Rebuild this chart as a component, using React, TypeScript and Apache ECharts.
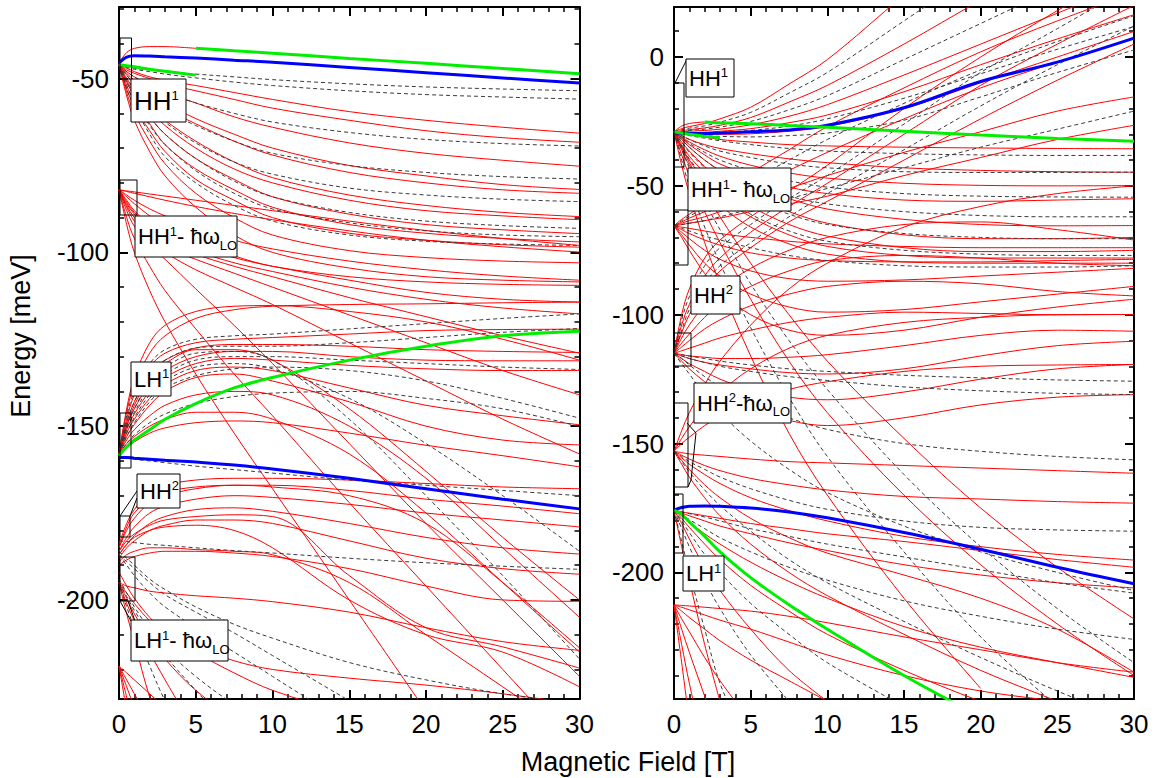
import React, { useEffect, useRef } from "react";
import * as echarts from "echarts";

const FONT = '"Liberation Sans", Arial, Helvetica, sans-serif';

// magnetic field sample points (T) shared by every curve
const FIELD = [0, 0.5, 1, 2, 3, 5, 7.5, 10, 15, 20, 25, 30];

const LEFT_Y_RANGE = [-228.5, -29.4];
const RIGHT_Y_RANGE = [-249.1, 19.4];
const LEFT_Y_MAJOR = [-200, -150, -100, -50];
const LEFT_Y_MINOR = [-220, -210, -190, -180, -170, -160, -140, -130, -120, -110, -90, -80, -70, -60, -40, -30];
const RIGHT_Y_MAJOR = [-200, -150, -100, -50, 0];
const RIGHT_Y_MINOR = [-240, -230, -220, -210, -190, -180, -170, -160, -140, -130, -120, -110, -90, -80, -70, -60, -40, -30, -20, -10, 10];

// ---------------- LEFT PANEL (energies in meV at FIELD) ----------------
const leftRedHH1 = [
  [-46, -47, -48, -49.5, -50.5, -52, -54, -56, -59.5, -62, -64, -65.7],
  [-46, -47.5, -48.5, -50, -51.5, -53.5, -56, -58.5, -62, -65, -67, -68.3],
  [-46, -48, -49.5, -52, -54, -57, -61, -64, -68.5, -71.5, -73.5, -75.2],
  [-46, -48.5, -50.5, -54, -57, -61.5, -66, -70, -75, -78, -80.5, -81.9],
  [-46, -49, -51.5, -55, -58.5, -63, -68, -72, -77, -80, -82, -83],
  [-46, -50, -53, -58, -62, -68, -74, -78.5, -83.5, -86.5, -88.5, -89.7],
  [-46, -50.5, -54, -59, -63.5, -70, -76, -80, -85, -88, -89.5, -90.6],
  [-46, -51, -55, -61, -66, -73, -79, -84, -89, -92, -93.5, -94.6],
  [-46, -52, -56.5, -63, -69, -76, -82, -87, -92, -94.5, -96, -97],
  [-46, -53, -58, -65, -71, -79, -85, -90, -94.5, -96.5, -97.8, -98.5],
  [-46, -54, -60, -68, -74.5, -83, -90, -95, -99.5, -101.5, -102.5, -103],
  [-46, -55, -62, -71, -78, -87, -95, -100, -104.5, -107, -108, -108.5],
  [-45.5, -42.5, -41.3, -40.8, -40.8, -41.3],
];
const leftDashHH1 = [
  [-46, -46.5, -47, -47.5, -48, -48.7, -49.5, -50.3, -51.5, -52.4, -53, -53.5],
  [-46, -46.8, -47.3, -48, -48.7, -49.8, -51, -52, -53.5, -54.6, -55.3, -55.9],
  [-46, -48, -49.5, -52, -54, -57, -60, -62.5, -65.5, -67.5, -68.7, -69.4],
  [-46, -49, -51.5, -55.5, -59, -63.5, -68, -71.5, -75, -77, -78.2, -78.9],
  [-46, -50, -53, -58, -62.5, -68.5, -74, -77.5, -81.5, -83.5, -84.7, -85.4],
  [-46, -51, -55, -61, -66, -73, -79.5, -84, -88.5, -91, -92.3, -93.1],
  [-46, -52, -56.5, -63.5, -69, -76.5, -83, -87.5, -91.5, -93.8, -95, -95.5],
  [-46, -53, -58, -66, -72.5, -80, -86.5, -91, -95, -96.8, -97.6, -98],
];
const leftBlueHH1 = [-45.5, -43.8, -43.4, -43.5, -43.7, -44.1, -44.7, -45.3, -46.8, -48.3, -49.8, -51.3];
const leftGreenHH1 = [null, null, null, null, null, -41.3, -42, -42.7, -44.2, -45.6, -47.1, -48.6];
const leftGreenHH1Short = [-46, -46.3, -46.6, -47.3, -47.9, -49];

const leftRedHH1LO = [
  [-82, -82.3, -82.6, -83.2, -83.8, -85, -86.5, -88, -91, -93.7, -96, -98],
  [-82, -82.5, -83, -84, -85, -86.8, -88.8, -90.6, -93.8, -96.5, -98.4, -99.9],
  [-82, -83.5, -85, -87.5, -89.5, -93, -96.5, -99, -102.5, -105, -106.8, -108],
  [-82, -84, -86, -89.5, -92.5, -97, -101, -104, -107, -108.5, -109.2, -109.5],
  [-82, -85, -88, -92, -94.5, -98, -101.5, -104, -108, -111.5, -113.5, -114.3],
  [-82, -85.5, -88.5, -92.5, -95.5, -99.5, -103, -105.5, -110, -113.5, -116, -117.7],
  [-82, -86, -89, -93.5, -96.5, -100.5, -104, -107, -113, -118.5, -124, -129],
  [-82, -86.5, -90, -95, -98.5, -102, -106, -110, -118, -126, -134, -141],
  [-82, -87, -91, -96.5, -100, -105, -110, -115, -126, -137, -148, -158],
  [-82, -88, -92.5, -98, -102, -110.5, -121, -132, -155, -178, -200, -222],
  [-82, -90, -96, -104, -111, -122, -135, -147, -172, -196, -220, -244],
  [-82, -92, -100, -111, -120, -135, -152, -168, -200, -232],
];

const leftRedLH1 = [
  [-158, -146, -138, -129, -124, -119, -116.5, -115.5, -115, -114.8, -114.5, -114.3],
  [-158, -148, -141, -133, -129, -126, -125, -124.5, -123.5, -122.5, -122.2, -122.1],
  [-158, -149, -143, -135, -131, -127.5, -126.5, -126.5, -127, -128, -128.5, -128.8],
  [-158, -150, -145, -138, -134, -130, -128.5, -128.5, -130, -131, -131.2, -131.2],
  [-158, -151, -146.5, -140, -136, -132, -130.5, -131, -132.5, -133.5, -134, -134],
  [-158, -152, -148, -142, -138, -134, -133, -134, -139, -144, -147, -149.6],
  [-158, -153, -149.5, -144, -140, -136, -135, -137, -143, -150, -154, -155.4],
  [-158, -150, -144, -136, -132, -128, -128, -131, -145, -163, -182, -200],
  [-158, -154, -151, -147, -144, -141, -140, -141, -150, -165, -185, -205],
  [-158, -155, -153, -150, -148, -146, -146, -148, -158, -175, -195, -215],
  [-158, -156, -154.5, -152, -150.5, -149, -148.5, -149, -152, -155.5, -158.5, -161.7],
  [-158, -145, -136, -126, -121, -117, -115.5, -115.3, -117, -120, -125, -131],
];
const leftDashLH1 = [
  [-158, -147, -140, -132, -128, -125, -124, -123.5, -122, -120.5, -119, -117.7],
  [-158, -149, -143, -135, -131, -127.5, -127, -127, -126, -124.5, -123, -121.9],
  [-158, -151, -146, -139, -135, -131, -130, -130, -131, -132, -133, -133.7],
  [-158, -153, -149, -143, -139, -135.5, -133.5, -133, -134, -137, -142, -147.7],
  [-158, -150, -145, -137, -133, -129, -128.5, -131, -148, -170, -193, -217],
  [-158, -155, -152.5, -149, -146.5, -143.5, -141.5, -140.5, -140, -142, -145, -150.1],
  [-158, -152, -147.5, -141, -137, -133, -132, -133.5, -142, -155, -170, -186],
  [-158.5, -159, -159.5, -160, -160.5, -161.5, -162.5, -163.5, -165.5, -167, -168.5, -170],
];
const leftBlueLH1 = [-159, -159, -159.2, -159.5, -159.8, -160.3, -161.2, -162.3, -165, -168, -171, -173.8];
const leftGreenLH1 = [-158.5, -156, -154, -151, -148, -143.5, -139, -136, -131, -127, -124, -122.7];

const leftRedHH2 = [
  [-184, -178, -174, -169, -167, -165.5, -165, -165, -165.5, -166.5, -167.5, -168],
  [-185, -180, -176.5, -172, -170, -168, -167, -167, -168.5, -171, -173, -175.2],
  [-186, -182, -179, -175, -173, -171, -170, -170.5, -172.5, -175, -177, -179],
  [-187, -184, -181.5, -178, -176, -174, -173.5, -174.5, -178, -182, -185, -186.8],
  [-188, -185, -183, -180, -178.5, -177, -177, -178, -183, -188, -191, -192.6],
  [-186, -183, -181, -178.5, -177, -176, -175.5, -176, -193, -208, -213.5, -219.6],
  [-187, -184, -182, -180, -179, -178.5, -180, -185, -200, -210, -215, -225],
  [-189, -187, -186, -185, -185, -185.5, -186, -187, -195, -210, -225, -240],
  [-190, -188.5, -187.5, -186.5, -186, -186, -186.5, -187.5, -191, -196, -200, -200.4],
  [-185, -179, -175, -171, -169, -167.5, -167, -167.5, -170, -178, -195, -213.8],
];
const leftDashHH2 = [
  [-183, -183.2, -183.5, -184, -184.3, -185, -185.8, -186.5, -188, -189.3, -190.3, -191.2],
  [-187, -189, -191, -195, -198.5, -203.5, -209.5, -216, -229, -242],
  [-187, -190, -193, -198, -202, -208, -215, -222, -236, -250],
  [-186, -188, -190, -194, -197, -202, -207, -211, -218, -223, -227, -230],
];
const leftRedLH1LO = [
  [-195, -196, -196.5, -197.5, -198, -198.8, -199.5, -200.5, -203.5, -208, -212, -214.5],
  [-195, -198, -201, -206, -209.5, -213.5, -217.5, -220, -222.5, -224.5, -227, -230],
  [-195, -201, -206, -215, -223, -238],
  [-195, -204, -212, -228, -240],
  [-195, -199.5, -204, -211, -217, -226, -234, -240],
  [-192, -196, -199.5, -205, -209, -215, -221, -226, -233, -240],
  [-219, -221, -223, -227, -231, -238],
  [-219, -223, -227, -235, -243],
  [-219, -225, -231, -243],
  [-219, -228, -237],
  [-219, -232, -245],
];
const leftDashLH1LO = [
  [-195, -199, -203, -210, -216, -226, -238],
  [-195, -202, -208, -219, -229, -245],
  [-194, -198, -202, -208.5, -214, -222, -230, -236, -245],
];

// ---------------- RIGHT PANEL ----------------
const rightRedHH1 = [
  [-29, -27.8, -27, -25.8, -24, -19.5, -10.5, -1, 24, 48, 70, 90],
  [-29, -28.6, -28.2, -27.5, -26.5, -23.5, -17.5, -11, 5, 22, 38, 55],
  [-29, -29, -28.8, -28.5, -28, -26.3, -23, -18.5, -7, 5, 17, 29],
  [-29, -29.2, -29.3, -29.2, -28.8, -27.8, -25.5, -22.5, -13.5, -3, 7, 16.4],
  [-29, -29.5, -29.8, -30, -30, -29.8, -28.8, -27, -20, -10, 0, 9.9],
  [-29, -29.5, -30, -31, -32, -33, -34, -34.5, -35, -35.3, -35.5, -35.6],
  [-29, -30.5, -32, -34, -35.5, -37.5, -39.5, -41, -43, -44, -44.5, -44.7],
  [-29, -31, -33, -36, -38.5, -42, -45, -47, -49, -49.8, -50, -49.9],
  [-29, -31.5, -34, -38, -41.5, -46, -50.5, -53, -55.5, -56, -55.5, -55],
  [-29, -32, -35, -40, -44, -50, -55, -59, -63, -65, -65.5, -65.4],
  [-29, -33, -36.5, -42.5, -47.5, -54, -60, -64.5, -69, -70.5, -70.5, -70],
  [-29, -34, -38.5, -45, -50.5, -58, -65, -69.5, -74, -75.5, -75.5, -75],
  [-29, -35, -40, -48, -54, -62, -69, -73.5, -77, -78, -78, -78],
  [-29, -36, -42, -51, -57.5, -66, -72.5, -76.5, -79.5, -80, -80, -80],
  [-29, -38, -46, -60, -72, -94, -118, -138, -170, -197, -220, -240],
  [-29, -35, -41, -52, -62, -80, -100, -118, -148, -175, -198, -218],
  [-29, -42, -53, -72, -88, -116, -146, -170, -210, -245],
  [-29, -26.8, -25.8, -25.2],
];
const rightDashHH1 = [
  [-29, -28.2, -27.6, -26.7, -25.3, -21.5, -14, -6, 14, 34, 52, 70],
  [-29, -28.8, -28.5, -28, -27.2, -25, -20.5, -15, -1, 13, 27, 41],
  [-29, -29.3, -29.5, -29.5, -29.2, -28.5, -26.8, -24, -16, -6.5, 3, 11.8],
  [-29, -29.6, -30, -30.5, -30.8, -31, -30.5, -29.5, -24.5, -15.5, -6, 2.7],
  [-29, -29.8, -30.5, -31.5, -32.5, -34, -35.5, -36.5, -37.5, -38, -38.2, -38.2],
  [-29, -30.5, -32, -34.5, -36.5, -39, -41.5, -43, -44.5, -44.8, -44.8, -44.7],
  [-29, -31.2, -33.5, -37, -40, -44, -48, -50.5, -53, -54, -54.3, -54.4],
  [-29, -32, -35, -40, -44, -49.5, -54, -57, -60, -61.5, -62, -62],
  [-29, -33, -37, -43, -48, -55, -61, -65, -68.5, -70, -70.5, -70.5],
  [-29, -34.5, -39.5, -47, -53, -61, -67.5, -71.5, -75, -76.5, -77, -77],
  [-29, -40, -50, -66, -80, -105, -132, -155, -192, -225, -252],
  [-29, -36, -43, -56, -67, -88, -110, -129, -162, -190, -214, -235],
];
const rightBlueHH1 = [-29.3, -29.6, -29.7, -29.7, -29.5, -29, -28.3, -26.5, -19.7, -9.5, -2, 7.3];
const rightGreenHH1 = [null, null, null, -25.2, -25.5, -25.9, -26.6, -27.3, -28.8, -30.3, -31.6, -32.7];
const rightGreenHH1Short = [-29, -29.5, -30, -30.8, -31.3];

const rightRedHH1LO = [
  [-65.5, -63, -61, -57, -53, -45, -36, -27, -12, 2, 14, 25],
  [-65.5, -64, -62.5, -60, -57, -51, -44, -37, -24, -12, -2, 7],
  [-65.5, -64.5, -63.5, -62, -60, -56, -51, -46, -37, -29, -21, -15.5],
  [-65.5, -65, -64.5, -63.5, -62.5, -60, -57, -54, -46, -39, -32, -26.5],
  [-65.5, -66, -66.5, -67.5, -68.5, -70, -71.5, -72.5, -73.5, -74, -74, -74],
  [-65.5, -67, -68.5, -71, -73, -76, -78, -79, -79.5, -79.5, -79, -78.5],
  [-65.5, -68, -70.5, -75, -78.5, -83, -86, -87, -86.5, -85, -83.5, -82],
  [-65.5, -69, -73, -80, -85, -92, -97, -99, -98, -95, -92, -89],
  [-65.5, -70, -75, -84, -91, -100, -106, -108, -106, -101, -97, -94],
];
const rightDashHH1LO = [
  [-65.5, -63.5, -61.8, -58.5, -55, -48, -40, -32, -18, -5, 6, 16],
  [-65.5, -65, -64.5, -63.5, -62, -59, -55, -51, -43, -35, -28, -21],
  [-65.5, -66.5, -67.5, -69.5, -71, -74, -77, -79, -81, -81.5, -81.5, -81],
];

const rightRedHH2 = [
  [-115, -100, -90, -78, -71, -62, -52, -42, -20, 0, 18, 35],
  [-115, -104, -96, -85, -78, -68, -58, -49, -30, -11, 5, 20],
  [-115, -107, -100, -90, -83, -74, -64, -56, -40, -24, -9, 5],
  [-115, -109, -104, -96, -90, -82, -75, -70, -65, -64, -67, -71],
  [-115, -111, -107.5, -101, -96, -89, -83, -79, -77, -78, -80, -81],
  [-115, -112.5, -110, -105.5, -102, -96.5, -92, -89, -87, -88, -91, -92.7],
  [-115, -114, -113, -111, -109, -106, -103, -101, -99, -99.5, -100, -99.9],
  [-115, -115.5, -116, -116.5, -117, -117, -116.5, -115.5, -112, -108, -106, -106.4],
  [-115, -116, -117, -118.5, -119.5, -121, -122.5, -123, -121, -116, -112, -110.3],
  [-115, -117, -119, -122, -125, -129, -132, -133, -130, -125, -121, -119.3],
  [-115, -118, -121, -126, -130, -136, -141, -143, -140, -135, -132, -131],
];
const rightDashHH2 = [
  [-115, -102, -93, -81, -74, -65, -55, -46, -26, -6, 11, 28],
  [-115, -106, -98, -88, -81, -72, -62, -53, -36, -19, -3, 12],
  [-115, -115.5, -116, -117, -118, -119.5, -121, -122, -123.5, -124.5, -125.3, -125.8],
  [-115, -116, -117, -118.5, -120, -122, -124, -125.5, -128, -129.5, -130.5, -131],
  [-115, -117, -119.5, -124, -128, -134, -140, -144.5, -150, -153, -155, -156.3],
  [-115, -119, -123, -131, -138, -149, -160, -169, -182, -192, -200, -207],
];

const rightRedHH2LO = [
  [-153, -145, -138, -127, -118, -104, -90, -80, -66, -58, -53, -50],
  [-153, -148, -143.5, -136, -130, -121, -113, -108, -103, -101, -100, -99.9],
  [-153, -150, -147.5, -143, -139.5, -134, -129, -126, -122, -120, -119.5, -119.3],
  [-153, -153.5, -154, -154.5, -155, -156, -157, -157.5, -158.5, -159.5, -160.5, -161.5],
  [-153, -154.5, -156, -158.5, -160.5, -163.5, -166, -168, -170.5, -171.5, -172.5, -173.1],
  [-153, -155.5, -158, -162, -165.5, -171, -176, -180, -186, -190, -193, -195.2],
  [-153, -156.5, -160, -166, -171, -179, -186.5, -192.5, -201, -210, -222, -238.7],
  [-153, -158, -163, -171, -178, -189, -200, -209, -224, -238, -250, -262],
];
const rightDashHH2LO = [
  [-153, -155, -157, -160, -163, -167.5, -172, -175.5, -180, -182.5, -183.5, -184],
  [-153, -157, -161, -168, -174, -184, -195, -204, -219, -233, -246, -258],
];

const rightRedLH1 = [
  [-175.8, -177, -178, -180, -182, -185, -188.5, -191.5, -197, -201, -204, -206],
  [-175.8, -176.5, -177, -178, -179, -181, -183, -185, -188, -191.5, -195, -198],
  [-175.8, -178, -180.5, -185, -189, -196, -203.5, -210, -221, -229, -235, -240.7],
  [-175.8, -179, -182.5, -189, -195, -205, -215, -224, -238, -250, -260, -270],
  [-175.8, -181, -187, -198, -207, -222, -238, -250],
  [-175.8, -190, -203, -228, -250],
];
const rightDashLH1 = [
  [-175.8, -177.5, -179.5, -183, -186.5, -192, -198, -203, -211, -217, -222, -226],
  [-175.8, -180, -184.5, -193, -200, -212, -224, -235, -252],
  [-175.8, -183, -190, -203, -214, -232, -250],
  [-175.8, -188, -200, -222, -243, -270],
  [-175.8, -176.5, -177.2, -178.5, -180, -183, -186, -189, -194, -199, -204, -208],
];
const rightBlueLH1 = [-175.8, -174.8, -174.3, -174.2, -174.3, -175, -176.5, -178.8, -184.5, -191, -198, -204.4];
const rightGreenLH1 = [-175.8, -177.5, -180.4, -186, -192, -202, -212.5, -222, -240, -256];

const rightRedLH1LO = [
  [-212.6, -212.8, -213, -213.5, -214, -215, -217, -219.5, -225, -230, -235, -238.7],
  [-212.6, -213.5, -214.5, -216.5, -218.5, -222, -227, -232, -240, -246, -250, -254],
  [-212.6, -215, -217.5, -222, -226.5, -234, -242, -250],
  [-212.6, -218, -223, -233, -242, -258],
  [-212.6, -222, -231, -248, -265],
  [-212.6, -228, -243, -270],
  [-212.6, -235, -258],
];

// ---------------- helpers ----------------
const toData = (ys) => ys.map((y, i) => (y === null || y === undefined ? null : [FIELD[i], y]));

function curveSeries(list, panel, kind) {
  const styles = {
    red: { color: "#ff0000", width: 1, type: "solid" },
    dash: { color: "#3a3a3a", width: 1, type: [4, 3] },
    blue: { color: "#0000ff", width: 3, type: "solid" },
    green: { color: "#00ee00", width: 3, type: "solid" },
  };
  return list.map((ys) => ({
    type: "line",
    xAxisIndex: panel === 0 ? 0 : 2,
    yAxisIndex: panel === 0 ? 0 : 4,
    data: toData(ys),
    showSymbol: false,
    symbol: "none",
    smooth: 0.35,
    clip: true,
    silent: true,
    lineStyle: styles[kind],
  }));
}

function xAxes(grid) {
  const base = {
    type: "value",
    gridIndex: grid,
    min: 0,
    max: 30,
    interval: 5,
    splitLine: { show: false },
    axisLine: { show: true, onZero: false, lineStyle: { color: "#000", width: 2 } },
    axisTick: { show: true, inside: true, length: 9, lineStyle: { color: "#000", width: 2 } },
    minorTick: { show: true, splitNumber: 5, length: 5, lineStyle: { color: "#000", width: 1.5 } },
  };
  return [
    { ...base, position: "bottom", axisLabel: { show: true, fontSize: 26, color: "#000", margin: 12, fontFamily: FONT } },
    { ...base, position: "top", axisLabel: { show: false } },
  ];
}

function yAxes(grid, range, major, minor) {
  const mk = (pos, values, len, label, line) => ({
    type: "value",
    gridIndex: grid,
    min: range[0],
    max: range[1],
    position: pos,
    splitLine: { show: false },
    axisLine: { show: line, onZero: false, lineStyle: { color: "#000", width: 2 } },
    axisTick: { show: true, inside: true, length: len, customValues: values, lineStyle: { color: "#000", width: len > 6 ? 2 : 1.5 } },
    axisLabel: { show: label, customValues: values, fontSize: 26, color: "#000", margin: 10, fontFamily: FONT },
  });
  return [
    mk("left", major, 9, true, true),
    mk("left", minor, 5, false, false),
    mk("right", major, 9, false, true),
    mk("right", minor, 5, false, false),
  ];
}

function label(x, y, w, h, text, size = 22) {
  return {
    type: "group",
    children: [
      { type: "rect", shape: { x, y, width: w, height: h }, style: { fill: "#fff", stroke: "#000", lineWidth: 1 }, z: 100 },
      {
        type: "text",
        x: x + 3,
        y: y + h / 2,
        z: 101,
        style: {
          text,
          fill: "#000",
          fontSize: size,
          fontFamily: FONT,
          lineHeight: 30,
          verticalAlign: "middle",
          align: "left",
          rich: {
            s: { fontSize: 13, lineHeight: 13, verticalAlign: "top", padding: [3, 0, 0, 0], fontFamily: FONT, fill: "#000" },
            d: { fontSize: 13, lineHeight: 13, verticalAlign: "bottom", fontFamily: FONT, fill: "#000" },
          },
        },
      },
    ],
  };
}

const box = (x, y, w, h) => ({
  type: "rect",
  shape: { x, y, width: w, height: h },
  style: { fill: "none", stroke: "#000", lineWidth: 1 },
  z: 99,
});
const seg = (pts) => ({
  type: "polyline",
  shape: { points: pts },
  style: { fill: "none", stroke: "#000", lineWidth: 1 },
  z: 99,
});

export default function App() {
  const ref = useRef(null);
  useEffect(() => {
    document.body.style.margin = "0";
    const chart = echarts.init(ref.current, null, { renderer: "svg" });
    const series = [
      ...curveSeries(leftRedHH1, 0, "red"),
      ...curveSeries(leftRedHH1LO, 0, "red"),
      ...curveSeries(leftRedLH1, 0, "red"),
      ...curveSeries(leftRedHH2, 0, "red"),
      ...curveSeries(leftRedLH1LO, 0, "red"),
      ...curveSeries(leftDashHH1, 0, "dash"),
      ...curveSeries(leftDashLH1, 0, "dash"),
      ...curveSeries(leftDashHH2, 0, "dash"),
      ...curveSeries(leftDashLH1LO, 0, "dash"),
      ...curveSeries([leftBlueHH1, leftBlueLH1], 0, "blue"),
      ...curveSeries([leftGreenHH1, leftGreenHH1Short, leftGreenLH1], 0, "green"),
      ...curveSeries(rightRedHH1, 1, "red"),
      ...curveSeries(rightRedHH1LO, 1, "red"),
      ...curveSeries(rightRedHH2, 1, "red"),
      ...curveSeries(rightRedHH2LO, 1, "red"),
      ...curveSeries(rightRedLH1, 1, "red"),
      ...curveSeries(rightRedLH1LO, 1, "red"),
      ...curveSeries(rightDashHH1, 1, "dash"),
      ...curveSeries(rightDashHH1LO, 1, "dash"),
      ...curveSeries(rightDashHH2, 1, "dash"),
      ...curveSeries(rightDashHH2LO, 1, "dash"),
      ...curveSeries(rightDashLH1, 1, "dash"),
      ...curveSeries([rightBlueHH1, rightBlueLH1], 1, "blue"),
      ...curveSeries([rightGreenHH1, rightGreenHH1Short, rightGreenLH1], 1, "green"),
    ];
    chart.setOption({
      animation: false,
      backgroundColor: "#fff",
      grid: [
        { left: 119, top: 7, width: 460.5, height: 692 },
        { left: 674, top: 7, width: 460, height: 692 },
      ],
      xAxis: [...xAxes(0), ...xAxes(1)],
      yAxis: [
        ...yAxes(0, LEFT_Y_RANGE, LEFT_Y_MAJOR, LEFT_Y_MINOR),
        ...yAxes(1, RIGHT_Y_RANGE, RIGHT_Y_MAJOR, RIGHT_Y_MINOR),
      ],
      series,
      graphic: [
        box(120, 38, 11.5, 41),
        box(120, 180, 17, 35),
        box(120, 413, 11, 55),
        box(120, 516, 10, 21),
        box(120, 557, 15, 44),
        seg([[120, 516], [137, 491]]),
        seg([[130, 516], [137, 498]]),
        seg([[120, 601], [131, 621]]),
        seg([[128, 601], [135, 621]]),
        label(131, 79, 55, 43, "HH{s|1}", 26),
        label(135, 216, 102, 41, "HH{s|1}- ħω{d|LO}"),
        label(131, 362, 40, 34, "LH{s|1}"),
        label(137, 474, 43, 34, "HH{s|2}"),
        label(131, 620, 97, 41, "LH{s|1}- ħω{d|LO}"),
        box(674, 83, 10, 84),
        box(674, 210, 14, 55),
        box(674, 333, 17, 33),
        box(674, 403, 14, 84),
        box(674, 494, 9, 59),
        seg([[675, 83], [687, 59]]),
        seg([[687, 423], [696, 433], [691, 480], [688, 487]]),
        label(686, 59, 48, 38, "HH{s|1}"),
        label(688, 168, 103, 43, "HH{s|1}- ħω{d|LO}"),
        label(691, 276, 49, 38, "HH{s|2}"),
        label(694, 383, 97, 40, "HH{s|2}-ħω{d|LO}"),
        label(683, 556, 41, 35, "LH{s|1}"),
        {
          type: "text",
          x: 21,
          y: 336,
          rotation: Math.PI / 2,
          style: { text: "Energy [meV]", fill: "#000", fontSize: 27, fontFamily: FONT, align: "center", verticalAlign: "middle" },
        },
        {
          type: "text",
          x: 628,
          y: 762,
          style: { text: "Magnetic Field [T]", fill: "#000", fontSize: 27, fontFamily: FONT, align: "center", verticalAlign: "middle" },
        },
      ],
    });
    return () => chart.dispose();
  }, []);
  return <div ref={ref} style={{ position: "absolute", left: 0, top: 0, width: 1160, height: 778 }} />;
}
